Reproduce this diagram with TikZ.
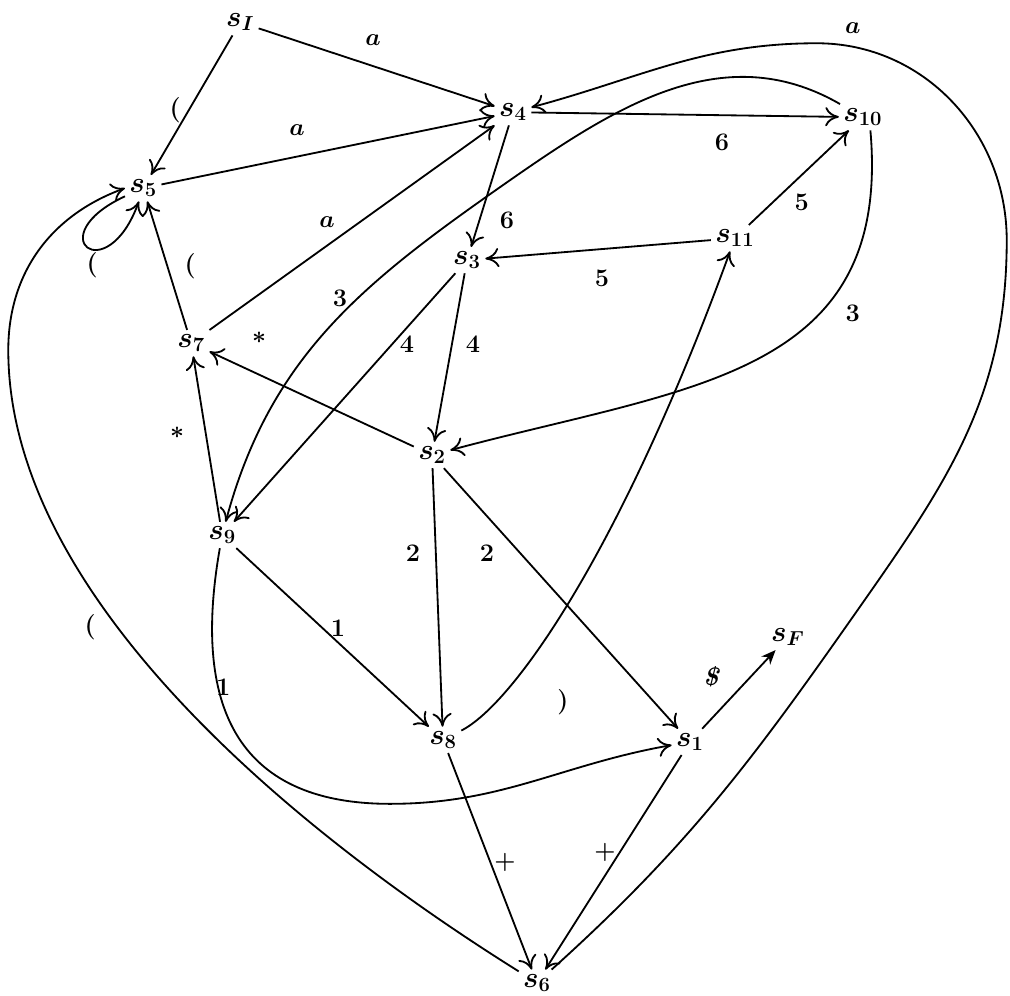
\documentclass[tikz,border=0pt]{standalone}
\usepackage{amssymb, amsmath}
\usepackage{tikz}
\usetikzlibrary{arrows.meta}

\begin{document}
\begin{tikzpicture}[
   x=0.25mm, y=0.25mm,
   >={To[length=3.4mm, width=4.8mm]},
   stnode/.style={inner sep=3pt, font=\fontsize{20}{24}\selectfont\boldmath},
   trlabel/.style={inner sep=1pt, font=\fontsize{18}{22}\selectfont\boldmath},
   trans/.style={->, line width=1.3pt},
   endtrans/.style={-{Stealth[length=3.6mm, width=3mm]}, line width=1.3pt}
  ]

  \draw[white] (0, 0) rectangle (1010, -995);

  % States
  \node (sI) at (240, -22) [stnode] {$s_I$};
  \node (s4) at (513, -112) [stnode] {$s_{\mathbf{4}}$};
  \node (s10) at (863, -117) [stnode] {$s_{\mathbf{10}}$};
  \node (s5) at (143, -188) [stnode] {$s_{\mathbf{5}}$};
  \node (s11) at (735, -238) [stnode] {$s_{\mathbf{11}}$};
  \node (s3) at (467, -260) [stnode] {$s_{\mathbf{3}}$};
  \node (s7) at (191, -343) [stnode] {$s_{\mathbf{7}}$};
  \node (s2) at (432, -455) [stnode] {$s_{\mathbf{2}}$};
  \node (s9) at (222, -535) [stnode] {$s_{\mathbf{9}}$};
  \node (sF) at (788, -637) [stnode] {$s_F$};
  \node (s8) at (443, -740) [stnode] {$s_{\mathbf{8}}$};
  \node (s1) at (690, -742) [stnode] {$s_{\mathbf{1}}$};
  \node (s6) at (537, -983) [stnode] {$s_{\mathbf{6}}$};

  % Straight transitions
  \foreach \B/\E in {sI/s4, sI/s5, s5/s4, s7/s4, s7/s5, s4/s3, s4/s10, s11/s10,
                     s11/s3, s3/s2, s3/s9, s2/s7, s9/s7, s2/s8, s2/s1, s9/s8,
                     s8/s6, s1/s6} {
    \draw[trans] (\B) -- (\E);
  }
  \draw[endtrans] (s1) -- (sF);

  % Curved transitions
  \draw[trans] (s5.204) .. controls +(205:95) and +(250:95) .. (s5.252);
  \draw[trans] (s10) to[out=150, in=35] (500, -187) to[out=215, in=75] (s9);
  \draw[trans] (s10.-60) to[out=-85, in=15, looseness=1.2] (s2);
  \draw[trans] (s8) .. controls +(27:80) and +(250:330) .. (s11);
  \draw[trans] (s9) to[out=260, in=180, looseness=1.3] (390, -804)
                    to[out=0, in=190] (s1);
  \draw[trans] (s6) to[out=148, in=-90, looseness=0.8] (8, -350)
                    to[out=90, in=200] (s5.west);
  \draw[trans] (s6) to[out=42, in=235] (867, -597) to[out=55, in=-90] (1007, -240)
                    to[out=90, in=0] (817, -43) to[out=180, in=15] (s4);

  % Labels
  \foreach \L/\x/\y [count=\i] in {
      {$a$}/373/40, {\textbf{(}}/175/110, {$a$}/297/130, {$a$}/327/222,
      {\textbf{(}}/92/265, {\textbf{(}}/190/266, {\textbf{6}}/507/220,
      {\textbf{6}}/722/142, {\textbf{3}}/340/298, {\textbf{3}}/853/313,
      {\textbf{5}}/802/202, {\textbf{5}}/602/278, {\textbf{)}}/563/702,
      {\textbf{4}}/473/344, {\textbf{4}}/407/344, {$*$}/259/338, {$*$}/177/433,
      {\textbf{2}}/413/553, {\textbf{2}}/487/553, {\textbf{1}}/338/628,
      {\textbf{1}}/223/687, {\textbf{\textit{\$}}}/712/677, {$+$}/505/863,
      {$+$}/605/853, {\textbf{(}}/90/627, {$a$}/853/28} {
    \node (lab\i) at (\x, -\y) [trlabel] {\L};
  }

\end{tikzpicture}
\end{document}
